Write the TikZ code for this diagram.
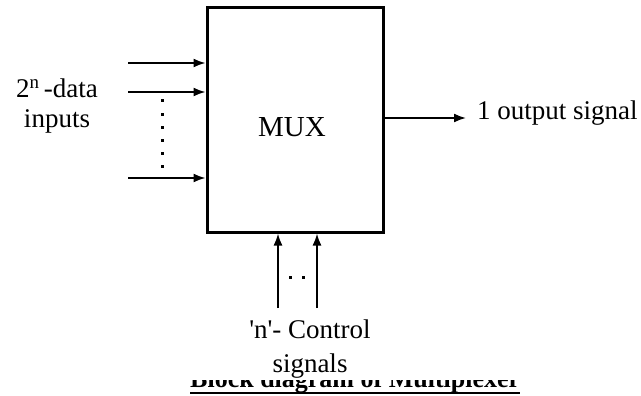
\documentclass[tikz,border=0pt]{standalone}
\usepackage{fontspec}
\setmainfont{Liberation Serif}
\usepackage{tikz}
\usetikzlibrary{arrows.meta,positioning}

\tikzset{
  sigline/.style={line width=1.8pt,-{Latex[length=12pt,width=9pt]}},
  txt/.style={font=\fontsize{27}{30}\selectfont,inner sep=0pt,align=center},
}

\begin{document}
\begin{tikzpicture}[x=1pt,y=-1pt]
  \useasboundingbox (0,0) rectangle (641,396);
  % multiplexer block
  \node[draw,line width=3pt,minimum width=176pt,minimum height=224pt,inner sep=0pt] (mux) at (295,120) {};
  \node[font=\fontsize{29}{32}\selectfont,inner sep=0pt] (muxlbl) at (292,127) {MUX};
  % data inputs
  \coordinate (in1) at (128,63);
  \coordinate (in2) at (128,92);
  \coordinate (in3) at (128,178);
  \foreach \c in {in1,in2,in3}{\draw[sigline] (\c) -- (\c -| mux.west);}
  \foreach \y in {0,...,5}{\fill (160.5,99.5+13.2*\y) rectangle ++(3,3);}
  \node[txt] (datalbl) at (57,106) {2\textsuperscript{n}\,-data\\inputs};
  % output
  \coordinate (outtip) at (466,118);
  \draw[sigline] (mux.east |- outtip) -- (outtip);
  \node[txt,anchor=base west] (outlbl) at (477,120) {1 output signal};
  % control lines
  \coordinate (ctl1) at (278,308);
  \coordinate (ctl2) at (317,308);
  \foreach \c in {ctl1,ctl2}{\draw[sigline] (\c) -- (\c |- mux.south);}
  \foreach \x in {288.5,301.5}{\fill (\x,275.5) rectangle ++(3,3);}
  \node[txt,font=\fontsize{27}{34}\selectfont] (ctllbl) at (310,349)
    {\textquotesingle n\textquotesingle- Control\\signals};
  % caption (cut off at the bottom)
  \begin{scope}
    \clip (0,380) rectangle (641,396);
    \node[txt,font=\fontsize{26}{30}\selectfont\bfseries,anchor=base west] (caption) at (190,387)
      {Block diagram of Multiplexer};
    \draw[line width=1.5pt] (caption.south west) -- (caption.south east);
  \end{scope}
\end{tikzpicture}
\end{document}
